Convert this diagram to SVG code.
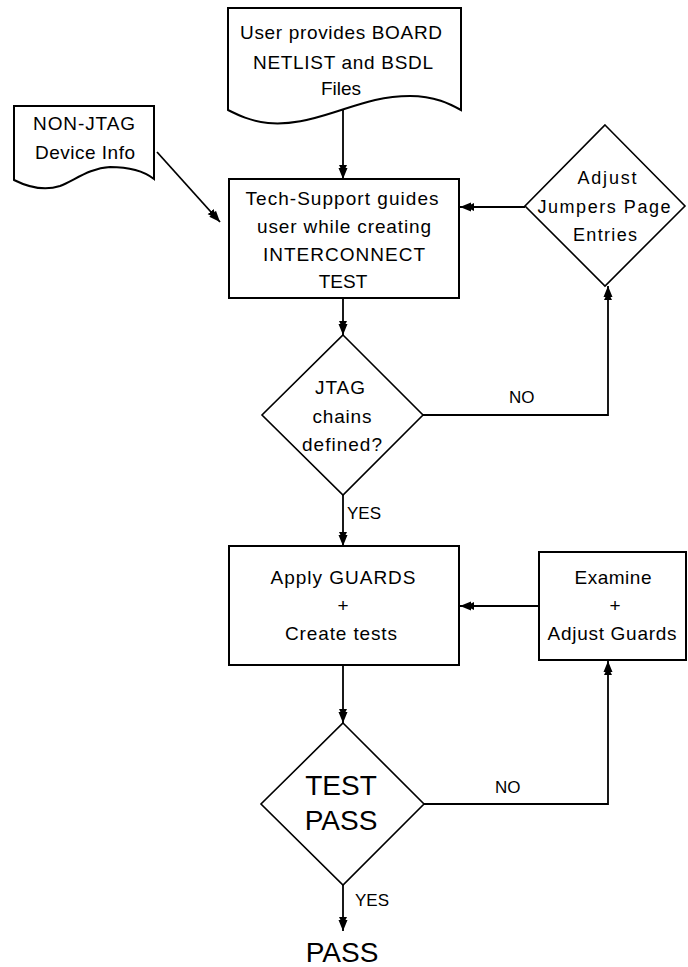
<svg xmlns="http://www.w3.org/2000/svg" width="688" height="967" viewBox="0 0 688 967">
<style>
  .shape { fill: #fff; stroke: #000; stroke-width: 2; }
  .dia { fill: #fff; stroke: #000; stroke-width: 1.6; }
  .t { font-family: "Liberation Sans", Arial, sans-serif; font-size: 19px; fill: #000; text-anchor: middle; }
  .s { font-size: 18px; }
  .lab { font-family: "Liberation Sans", Arial, sans-serif; font-size: 17px; fill: #000; }
  .big { font-size: 28px; }
  .conn { fill: none; stroke: #000; stroke-width: 1.8; }
</style>
<defs>
  <marker id="ah" viewBox="0 0 14 10" refX="14" refY="5" markerWidth="14" markerHeight="10" markerUnits="userSpaceOnUse" orient="auto">
    <path d="M0,1 L3,2.5 L3,0.5 L14,5 L3,9.5 L3,7.5 L0,9 Z" fill="#000"/>
  </marker>
</defs>
<rect width="688" height="967" fill="#fff"/>

<g id="connectors">
  <line class="conn" x1="343" y1="108" x2="343" y2="179" marker-end="url(#ah)"/>
  <line class="conn" x1="157" y1="152" x2="220" y2="222" marker-end="url(#ah)"/>
  <line class="conn" x1="525" y1="207" x2="460" y2="207" marker-end="url(#ah)"/>
  <line class="conn" x1="343" y1="298" x2="343" y2="335" marker-end="url(#ah)"/>
  <polyline class="conn" points="423,415 608,415 608,286" marker-end="url(#ah)"/>
  <line class="conn" x1="343" y1="495" x2="343" y2="546" marker-end="url(#ah)"/>
  <line class="conn" x1="539" y1="606" x2="460" y2="606" marker-end="url(#ah)"/>
  <line class="conn" x1="343" y1="665" x2="343" y2="723" marker-end="url(#ah)"/>
  <polyline class="conn" points="424,804 608,804 608,661" marker-end="url(#ah)"/>
  <line class="conn" x1="343" y1="885" x2="343" y2="931" marker-end="url(#ah)"/>
  <text class="lab" x="509" y="403">NO</text>
  <text class="lab" x="347" y="519">YES</text>
  <text class="lab" x="495" y="793">NO</text>
  <text class="lab" x="355" y="906">YES</text>
</g>

<g id="user-provides">
  <path class="shape" d="M228,8 H461 V110 C450,104 435,96 410,96 C380,96 360,104 335,112 C310,120 290,125 268,123 C250,121 238,115 228,110 Z"/>
  <text class="t" x="341" y="39" textLength="202" lengthAdjust="spacing">User provides BOARD</text>
  <text class="t" x="343" y="69" textLength="180" lengthAdjust="spacing">NETLIST and BSDL</text>
  <text class="t" x="341" y="95">Files</text>
</g>

<g id="non-jtag">
  <path class="shape" d="M14,106 H154 V179 C145,172 130,167 110,167 C90,168 75,180 60,186 C45,191 28,187 14,180 Z"/>
  <text class="t" x="84" y="130" textLength="102" lengthAdjust="spacing">NON-JTAG</text>
  <text class="t" x="85" y="159" textLength="100" lengthAdjust="spacing">Device Info</text>
</g>

<g id="tech-support">
  <rect class="shape" x="229" y="179" width="230" height="119"/>
  <text class="t" x="342" y="205" textLength="193" lengthAdjust="spacing">Tech-Support guides</text>
  <text class="t" x="344" y="233" textLength="174" lengthAdjust="spacing">user while creating</text>
  <text class="t" x="344" y="261" textLength="162" lengthAdjust="spacing">INTERCONNECT</text>
  <text class="t" x="343" y="288">TEST</text>
</g>

<g id="adjust-jumpers">
  <polygon class="dia" points="605,125 685,206 605,286 525,206"/>
  <text class="t s" x="607" y="184" textLength="59" lengthAdjust="spacing">Adjust</text>
  <text class="t s" x="604" y="213" textLength="133" lengthAdjust="spacing">Jumpers Page</text>
  <text class="t s" x="605" y="241" textLength="64" lengthAdjust="spacing">Entries</text>
</g>

<g id="jtag-chains">
  <polygon class="dia" points="343,335 423,415 343,495 262,415"/>
  <text class="t" x="340" y="394" textLength="50" lengthAdjust="spacing">JTAG</text>
  <text class="t" x="342" y="423" textLength="59" lengthAdjust="spacing">chains</text>
  <text class="t" x="342" y="451" textLength="80" lengthAdjust="spacing">defined?</text>
</g>

<g id="apply-guards">
  <rect class="shape" x="229" y="546" width="230" height="119"/>
  <text class="t" x="343" y="584" textLength="145" lengthAdjust="spacing">Apply GUARDS</text>
  <text class="t" x="343" y="612">+</text>
  <text class="t" x="341" y="640" textLength="112" lengthAdjust="spacing">Create tests</text>
</g>

<g id="examine">
  <rect class="shape" x="539" y="552" width="147" height="108"/>
  <text class="t" x="613" y="584" textLength="77" lengthAdjust="spacing">Examine</text>
  <text class="t" x="615" y="612">+</text>
  <text class="t" x="612" y="640" textLength="129" lengthAdjust="spacing">Adjust Guards</text>
</g>

<g id="test-pass">
  <polygon class="dia" points="343,723 424,804 343,885 261,804"/>
  <text class="t big" x="341" y="795">TEST</text>
  <text class="t big" x="341" y="830">PASS</text>
</g>

<g id="pass">
  <text class="t big" x="342" y="962">PASS</text>
</g>
</svg>
